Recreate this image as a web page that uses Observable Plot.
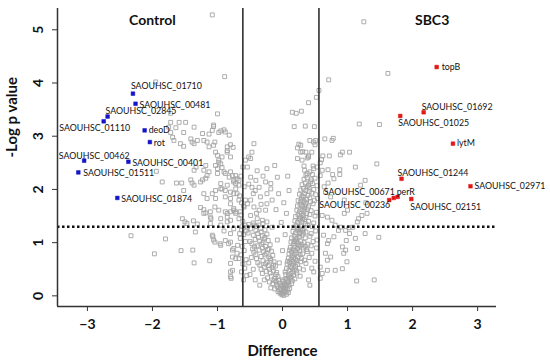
<!DOCTYPE html>
<html><head><meta charset="utf-8">
<script src="https://cdn.jsdelivr.net/npm/d3@7"></script>
<script src="https://cdn.jsdelivr.net/npm/@observablehq/plot@0.6"></script>
<style>body{margin:0;background:#fff;} svg{display:block}</style>
</head><body><div id="chart"></div>
<script>
// Axis ticks and thresholds
const xTicks = [-3, -2, -1, 0, 1, 2, 3];
const yTicks = [0, 1, 2, 3, 4, 5];
const diffCutoffs = [-0.61, 0.56];
const pCutoff = 1.301;

// Labelled proteins — Control (blue)
const controlNames = ["SAOUHSC_01710","SAOUHSC_00481","SAOUHSC_02845","SAOUHSC_01110","deoD","rot","SAOUHSC_00462","SAOUHSC_00401","SAOUHSC_01511","SAOUHSC_01874"];
const controlDiff  = [-2.30,-2.26,-2.69,-2.75,-2.12,-2.04,-3.05,-2.37,-3.14,-2.54];
const controlLogP  = [3.80,3.61,3.37,3.28,3.11,2.89,2.54,2.52,2.32,1.84];

// Labelled proteins — SBC3 (red)
const sbc3Names = ["topB","SAOUHSC_01692","SAOUHSC_01025","lytM","SAOUHSC_01244","SAOUHSC_02971","SAOUHSC_00236","SAOUHSC_00671","perR","SAOUHSC_02151"];
const sbc3Diff  = [2.37,2.17,1.81,2.62,1.83,2.89,1.64,1.71,1.77,1.98];
const sbc3LogP  = [4.30,3.45,3.38,2.86,2.20,2.06,1.80,1.84,1.86,1.82];

// Unlabelled proteins [difference, -log p]
const grayFarLeft = [
[-2.33,1.13],[-1.97,0.79],[-1.80,1.07],[-1.56,0.85],[-1.38,0.86],[-1.36,0.62],[-1.12,0.66],
[-1.95,4.02],[-1.72,3.43],[-1.75,3.17],[-1.64,3.16],[-1.72,3.26],[-1.59,3.26],[-1.49,3.26],
[-1.52,3.07],[-1.72,3.07],[-1.69,2.98],[-1.67,2.92],[-1.57,2.86],[-1.52,2.81],[-1.41,2.95],
[-1.39,2.89],[-1.36,2.86],[-1.31,2.92],[-1.36,3.17],[-1.94,2.34],[-1.85,2.14],[-1.63,2.12],
[-1.55,2.12],[-1.52,1.98],[-1.39,2.12],[-1.36,2.08],[-1.41,2.18],[-1.36,2.36],[-1.33,2.42],
[-1.54,1.45],[-1.50,1.39],[-1.37,1.41],[-1.31,1.35],[-1.34,1.20],[-1.47,1.36]
];
const grayLeftMid = [
[-1.08,5.28],[-0.89,4.12],[-1.00,3.42],[-1.06,3.18],[-1.08,3.11],[-0.95,3.10],[-0.88,3.08],
[-1.23,3.05],[-1.21,2.92],[-1.16,2.89],[-1.13,2.80],[-1.06,2.83],[-1.04,2.89],[-0.85,2.80],
[-0.80,2.84],[-0.76,2.79],[-1.13,3.04],[-0.90,3.12],[-0.82,3.02],[-1.06,3.21],[-0.98,3.07],
[-0.85,2.73],[-0.93,2.61],[-0.98,2.51],[-1.03,2.45],[-1.18,2.45],[-1.16,2.26],[-1.00,2.30],
[-0.90,2.33],[-0.80,2.33],[-0.72,2.26],[-0.67,2.17],[-0.75,2.14],[-0.85,2.08],[-0.95,2.11],
[-1.03,1.98],[-0.93,2.01],[-0.88,1.86],[-0.80,1.83],[-0.72,2.01],[-0.70,1.92],[-1.11,1.58],
[-0.98,1.61],[-0.80,1.73],[-0.67,1.80],[-0.72,1.58],[-0.85,1.48],[-1.21,1.55],[-1.26,2.14],
[-1.23,2.18],[-1.18,2.21],[-1.21,2.36],[-1.13,2.33],[-1.03,2.70],[-1.00,2.64],[-0.98,2.55],
[-0.95,2.48],[-0.93,2.41],[-1.00,2.39],[-0.85,2.70],[-0.80,2.61],[-0.88,2.30],[-0.82,2.23],
[-0.77,2.26],[-0.75,2.17],[-0.70,2.20],[-0.72,2.11],[-0.67,2.08],[-0.95,2.01],[-0.88,1.98],
[-0.80,1.95],[-0.75,1.92],[-1.21,1.92],[-1.08,1.92],[-1.03,1.83],[-1.16,1.83],[-1.21,1.62],
[-1.11,1.48],[-0.95,1.45],[-0.85,1.39],[-0.80,1.58],[-0.75,1.64],[-0.72,1.55],[-0.67,1.45],
[-0.65,1.58],[-1.18,1.56],[-1.10,1.45],[-1.04,1.67],[-0.88,1.58],[-0.80,1.42],[-0.75,1.26],
[-0.80,1.17],[-0.88,1.04],[-0.96,0.98],[-1.07,1.11],[-1.04,1.01],[-0.83,0.98],[-0.77,0.86],
[-0.69,0.95],[-0.77,0.73],[-0.72,0.70],[-0.77,0.48],[-0.80,0.45],[-0.79,0.33],[-1.08,1.14],
[-1.06,1.05],[-0.95,0.95],[-0.80,1.01],[-0.75,0.89],[-0.70,0.80],[-0.67,0.70],[-0.80,0.61],
[-0.80,0.36],[-1.11,1.36],[-0.85,1.55],[-0.75,1.61],[-0.95,1.33],[-0.90,1.22],[-1.26,1.66]
];
const grayNearLeftLine = [
[-0.66,1.88],[-0.63,1.75],[-0.60,1.69],[-0.64,1.52],[-0.61,1.40],[-0.58,1.33],[-0.63,1.24],
[-0.60,1.15],[-0.65,1.08],[-0.57,1.02],[-0.62,0.93],[-0.59,0.85],[-0.64,0.77],[-0.56,0.68],
[-0.61,0.60],[-0.58,0.52],[-0.63,0.45],[-0.55,0.38],[-0.60,0.30],[-0.62,1.30],[-0.56,1.22],
[-0.66,1.17],[-0.59,2.05],[-0.64,2.25],[-0.61,2.42],[-0.57,2.55],[-0.54,1.73],[-0.57,1.80],[-0.59,1.67]
];
const grayCenterUpper = [
[-0.44,2.86],[-0.47,2.70],[-0.52,2.61],[-0.49,2.58],[-0.24,2.39],[-0.54,2.42],[-0.49,2.23],
[-0.41,2.17],[-0.47,2.04],[-0.36,2.04],[-0.26,2.14],[-0.18,2.01],[-0.24,1.92],[-0.34,1.86],
[-0.49,1.80],[-0.44,1.67],[-0.36,1.61],[-0.26,1.61],[-0.16,1.80],[-0.49,1.51],[-0.39,1.45],
[-0.31,1.42],[-0.24,1.39],[-0.44,1.33],[-0.54,1.29],[-0.16,1.29],[-0.18,2.11],[-0.08,2.23],
[-0.24,1.73],[-0.12,2.45],[-0.05,0.62],[0.00,0.85],[-0.08,1.05],[0.04,1.15],[-0.02,1.38],
[0.06,1.55],[-0.10,1.62],[0.02,1.75],[-0.06,1.92],[0.10,1.98],[0.08,2.25],
[0.21,3.43],[0.40,3.63],[0.18,3.18],[0.35,3.19],[0.49,3.18],[0.42,2.92],[0.51,2.92],
[0.25,2.85],[0.23,2.78],[0.50,2.84],[0.31,2.71],[0.36,2.70],[0.40,2.63],[0.38,2.59],
[0.33,2.44],[0.47,2.44],[0.53,2.42],[0.34,2.36],[0.38,2.30],[0.46,2.28],[0.52,3.73],
[0.56,3.86],[0.29,3.47],[0.15,3.45],[0.48,2.89],[0.28,2.83],[0.23,2.58],[0.30,2.55],
[0.40,2.61],[0.48,2.39],[0.45,2.70],[0.28,2.70],
[-0.40,1.55],[-0.33,1.72],[-0.45,1.92],[-0.30,2.25],[-0.39,2.35],[-0.52,2.10],[-0.42,1.98]
];
const grayRightArm = [
[0.00,0.04],[0.03,0.07],[0.06,0.03],[-0.02,0.06],[0.01,0.10],[0.02,0.13],[0.05,0.15],
[0.08,0.11],[0.11,0.14],[0.04,0.19],[0.03,0.22],[0.07,0.24],[0.10,0.20],[0.14,0.23],
[0.01,0.27],[0.04,0.31],[0.08,0.29],[0.12,0.33],[0.15,0.28],[0.19,0.32],[0.05,0.40],
[0.09,0.38],[0.13,0.42],[0.17,0.39],[0.22,0.43],[0.27,0.37],[0.06,0.51],[0.10,0.48],
[0.14,0.53],[0.18,0.50],[0.21,0.47],[0.26,0.52],[0.32,0.49],[0.07,0.60],[0.11,0.63],
[0.15,0.58],[0.19,0.62],[0.23,0.59],[0.28,0.64],[0.36,0.61],[0.09,0.71],[0.13,0.68],
[0.17,0.72],[0.20,0.69],[0.24,0.73],[0.29,0.70],[0.34,0.67],[0.41,0.72],[0.10,0.79],
[0.14,0.82],[0.18,0.78],[0.22,0.81],[0.26,0.84],[0.31,0.79],[0.38,0.83],[0.45,0.80],
[0.12,0.91],[0.16,0.88],[0.19,0.92],[0.23,0.89],[0.27,0.93],[0.32,0.90],[0.37,0.87],
[0.44,0.94],[0.13,1.01],[0.17,0.98],[0.21,1.02],[0.24,0.99],[0.28,1.03],[0.33,1.00],
[0.39,0.97],[0.47,1.02],[0.14,1.09],[0.18,1.12],[0.22,1.08],[0.26,1.11],[0.30,1.14],
[0.35,1.09],[0.42,1.12],[0.16,1.21],[0.20,1.18],[0.24,1.22],[0.27,1.19],[0.31,1.23],
[0.36,1.20],[0.44,1.17],[0.51,1.22],[0.17,1.29],[0.21,1.32],[0.25,1.28],[0.29,1.31],
[0.33,1.27],[0.38,1.33],[0.46,1.30],[0.19,1.41],[0.23,1.38],[0.27,1.42],[0.30,1.39],
[0.34,1.43],[0.40,1.40],[0.48,1.37],[0.20,1.49],[0.24,1.52],[0.28,1.48],[0.32,1.51],
[0.36,1.47],[0.42,1.53],[0.50,1.50],[0.22,1.61],[0.26,1.58],[0.30,1.62],[0.33,1.59],
[0.38,1.63],[0.44,1.60],[0.52,1.57],[0.23,1.69],[0.27,1.72],[0.31,1.68],[0.35,1.71],
[0.40,1.67],[0.47,1.73],[0.24,1.79],[0.29,1.82],[0.33,1.78],[0.37,1.81],[0.42,1.84],
[0.49,1.79],[0.54,1.83],[0.26,1.91],[0.30,1.88],[0.34,1.92],[0.39,1.89],[0.45,1.93],
[0.51,1.90],[0.28,1.99],[0.32,2.02],[0.36,1.98],[0.41,2.03],[0.48,2.00],[0.30,2.09],
[0.35,2.12],[0.40,2.08],[0.46,2.11],[0.53,2.07],[0.33,2.19],[0.38,2.22],[0.44,2.18],[0.50,2.21],
[0.40,0.30],[0.45,0.52],[0.50,0.65],[0.52,0.90],[0.53,1.05],[0.48,0.45],[0.42,0.20],
[0.02,0.16],[0.06,0.20],[0.09,0.26],[0.13,0.36],[0.16,0.45],[0.20,0.55],[0.12,0.55],
[0.16,0.65],[0.22,0.66],[0.27,0.78],[0.15,0.75],[0.19,0.85],[0.25,0.95],[0.30,0.96],
[0.35,0.93],[0.20,1.05],[0.26,1.17],[0.32,1.18],[0.28,1.25],[0.35,1.36],[0.31,1.45],
[0.26,1.45],[0.37,1.55],[0.29,1.55],[0.34,1.65],[0.28,1.77],[0.36,1.75],[0.43,1.77],
[0.32,1.86],[0.41,1.96],[0.38,2.05],[0.43,2.14],[0.36,2.27],[0.42,2.33],[0.23,1.26],
[0.18,1.02],[0.11,0.86],[0.08,0.65],[0.04,0.45],[0.10,0.34]
];
const grayLeftArm = [
[-0.04,0.05],[-0.07,0.08],[-0.03,0.14],[-0.08,0.17],[-0.12,0.13],[-0.05,0.24],[-0.10,0.27],
[-0.15,0.23],[-0.20,0.26],[-0.07,0.36],[-0.12,0.33],[-0.17,0.37],[-0.23,0.34],[-0.09,0.44],
[-0.14,0.47],[-0.19,0.43],[-0.25,0.46],[-0.31,0.42],[-0.11,0.56],[-0.16,0.53],[-0.22,0.57],
[-0.28,0.54],[-0.35,0.58],[-0.13,0.64],[-0.18,0.67],[-0.24,0.63],[-0.30,0.66],[-0.38,0.62],
[-0.15,0.76],[-0.21,0.73],[-0.27,0.77],[-0.33,0.74],[-0.41,0.78],[-0.48,0.72],[-0.17,0.84],
[-0.23,0.87],[-0.29,0.83],[-0.36,0.86],[-0.44,0.82],[-0.19,0.96],[-0.26,0.93],[-0.32,0.97],
[-0.39,0.94],[-0.47,0.98],[-0.22,1.04],[-0.28,1.07],[-0.35,1.03],[-0.42,1.06],[-0.50,1.02],
[-0.24,1.16],[-0.31,1.13],[-0.38,1.17],[-0.45,1.14],[-0.53,1.18],[-0.27,1.24],[-0.34,1.27],
[-0.41,1.23],[-0.49,1.26],[-0.30,1.36],[-0.37,1.33],[-0.45,1.37],[-0.52,1.34],
[-0.01,0.02],[0.02,0.01],[-0.05,0.11],[0.05,0.08],[0.09,0.06],[-0.09,0.21],[0.00,0.18],
[-0.13,0.29],[0.00,0.30],[-0.45,0.50],[-0.50,0.40],[-0.42,0.30],[-0.35,0.20],[-0.52,0.62],[-0.46,0.88],
[-0.02,0.20],[-0.06,0.30],[-0.10,0.40],[-0.14,0.58],[-0.20,0.50],[-0.26,0.60],[-0.19,0.70],
[-0.25,0.80],[-0.31,0.90],[-0.21,0.88],[-0.30,1.00],[-0.37,1.10],[-0.27,1.10],[-0.33,1.20],
[-0.40,1.30],[-0.43,0.92],[-0.40,0.70],[-0.33,0.50],[-0.28,0.30],[-0.18,0.15]
];
const grayRight = [
[1.25,5.15],[1.62,4.18],[0.71,4.06],[1.18,3.23],[1.49,3.22],[0.65,2.95],[0.78,2.96],[0.76,2.92],
[1.45,2.48],[1.03,2.70],[0.89,2.65],[0.62,2.63],[0.72,2.63],[0.60,2.56],[0.58,2.50],[0.70,2.37],
[0.88,2.37],[0.77,2.28],[0.88,2.28],[0.79,2.20],[0.58,2.26],[0.61,2.36],[0.92,2.70],[1.12,2.42],
[1.20,2.08],[1.27,2.17],[0.66,1.95],[0.74,1.86],[0.95,1.80],[1.28,1.75],[0.64,2.05],[0.70,2.12],
[0.61,1.51],[0.69,1.48],[0.76,1.42],[0.81,1.33],[0.89,1.29],[0.97,1.23],[0.86,1.23],[1.02,1.28],
[1.15,1.39],[1.12,1.08],[1.15,0.89],[1.48,1.10],[0.63,1.14],[0.71,1.04],[0.69,0.98],[0.92,0.92],
[0.97,0.86],[0.94,0.80],[0.66,0.80],[0.74,0.73],[0.69,0.67],[0.99,0.64],[0.69,0.48],[0.81,0.48],
[0.92,0.51],[0.58,0.54],[0.61,0.42],[0.58,0.33],[1.14,0.28],[1.41,0.30],[0.79,1.11],[0.98,1.04],
[1.03,1.17],[1.27,1.17],[1.08,1.29],[1.17,1.45],[1.22,1.51],[1.30,1.55],[0.95,1.55],[1.00,1.61]
];

// Label placement (style only): anchor, dx, dy per label
const labelStyle = {
  "SAOUHSC_01710": ["start", -2, -7], "SAOUHSC_00481": ["start", 4, 1], "SAOUHSC_02845": ["start", -2, -5],
  "SAOUHSC_01110": ["middle", -9, 7], "deoD": ["start", 4, 0], "rot": ["start", 4, 1],
  "SAOUHSC_00462": ["middle", 10, -5], "SAOUHSC_00401": ["start", 4, 1], "SAOUHSC_01511": ["start", 5, 1],
  "SAOUHSC_01874": ["start", 4, 1], "topB": ["start", 5, 0], "SAOUHSC_01692": ["start", -2, -5],
  "SAOUHSC_01025": ["start", -2, 7], "lytM": ["start", 4, 0], "SAOUHSC_01244": ["start", -4, -6],
  "SAOUHSC_02971": ["start", 4, 0], "SAOUHSC_00236": ["end", 1, 5], "SAOUHSC_00671": ["end", 1, -6],
  "perR": ["start", -1, -5], "SAOUHSC_02151": ["start", -1, 8]
};

const gray = [...grayFarLeft, ...grayLeftMid, ...grayNearLeftLine, ...grayCenterUpper, ...grayRightArm, ...grayLeftArm, ...grayRight]
  .map(([diff, logp]) => ({diff, logp}));
const control = controlNames.map((name, i) => ({name, diff: controlDiff[i], logp: controlLogP[i]}));
const sbc3 = sbc3Names.map((name, i) => ({name, diff: sbc3Diff[i], logp: sbc3LogP[i]}));
const xDomain = [-3.46, 3.29], yDomain = [-0.2, 5.4];
const fmt = d => d < 0 ? "\u2212" + Math.abs(d) : String(d);

const labelMarks = [...control, ...sbc3].map(d => {
  const [anchor, dx, dy] = labelStyle[d.name];
  return Plot.text([d], {x: "diff", y: "logp", text: "name", textAnchor: anchor, dx, dy,
    fontSize: 8.8, fill: "#111"});
});

const chart = Plot.plot({
  width: 550, height: 363,
  marginLeft: 57, marginRight: 54, marginTop: 8, marginBottom: 57,
  style: {fontFamily: "Lato, 'Open Sans', sans-serif", background: "#fff", color: "#111"},
  x: {domain: xDomain},
  y: {domain: yDomain},
  marks: [
    Plot.dot(gray, {x: "diff", y: "logp", symbol: "square", r: 2.2, stroke: "#a4a4a4", strokeWidth: 0.9, fill: "none"}),
    Plot.ruleX(diffCutoffs, {stroke: "#222", strokeWidth: 1.5}),
    Plot.ruleY([pCutoff], {stroke: "#111", strokeWidth: 2.5, strokeDasharray: "2.5,2.5"}),
    Plot.dot(control, {x: "diff", y: "logp", symbol: "square", r: 2.1, fill: "#1414c8", stroke: "#1414c8", strokeWidth: 0.5}),
    Plot.dot(sbc3, {x: "diff", y: "logp", symbol: "square", r: 2.1, fill: "#e01818", stroke: "#e01818", strokeWidth: 0.5}),
    ...labelMarks,
    Plot.ruleY([yDomain[0]], {stroke: "#333", strokeWidth: 1.5}),
    Plot.ruleX([xDomain[0]], {stroke: "#333", strokeWidth: 1.5}),
    Plot.axisX({ticks: xTicks, tickFormat: fmt, tickSize: 5, tickPadding: 8, fontSize: 14, fontWeight: "bold", label: null, stroke: "#333"}),
    Plot.axisY({ticks: yTicks, tickFormat: fmt, tickSize: 5, tickPadding: 10, tickRotate: -90, fontSize: 14, fontWeight: "bold", label: null, stroke: "#333"}),
    Plot.text(["Difference"], {x: 0, frameAnchor: "bottom", dy: 49, fontSize: 15, fontWeight: "bold"}),
    Plot.text(["-Log p value"], {frameAnchor: "left", dx: -45, rotate: -90, fontSize: 15, fontWeight: "bold"}),
    Plot.text(["Control"], {x: -2.0, frameAnchor: "top", dy: 7, fontSize: 14, fontWeight: "bold"}),
    Plot.text(["SBC3"], {x: 2.30, frameAnchor: "top", dy: 7, fontSize: 14, fontWeight: "bold"})
  ]
});
document.getElementById("chart").appendChild(chart);
</script>
</body></html>
